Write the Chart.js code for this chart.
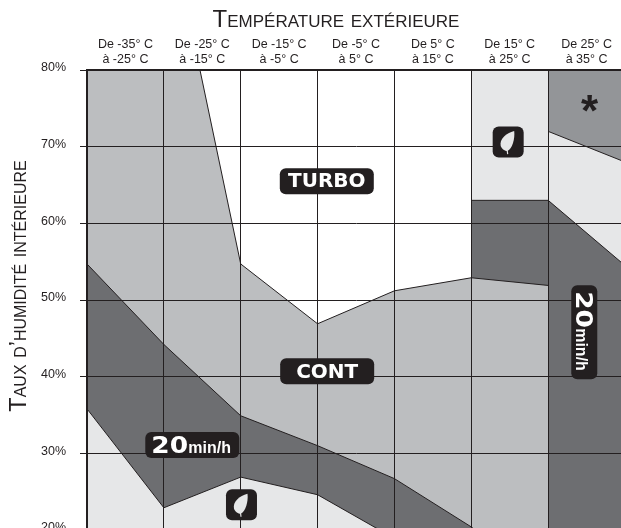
<!DOCTYPE html>
<html lang="fr">
<head>
<meta charset="utf-8">
<title>Température extérieure</title>
<style>
  html, body { margin: 0; background: #fff; overflow: hidden; width: 621px; height: 528px; }
  canvas { position: absolute; left: 0; top: 0; }
</style>
<script src="https://cdn.jsdelivr.net/npm/chart.js@4/dist/chart.umd.min.js"></script>
</head>
<body>
<canvas id="chart" width="625" height="545"></canvas>
<script>
const tempLabels = [
  ["De -35° C", "à -25° C"],
  ["De -25° C", "à -15° C"],
  ["De -15° C", "à -5° C"],
  ["De -5° C", "à 5° C"],
  ["De 5° C", "à 15° C"],
  ["De 15° C", "à 25° C"],
  ["De 25° C", "à 35° C"],
];

// region boundaries: temperature (x) and humidity % (y)
const contTopX = [-35, -20.3, -15, -5, 5, 15, 25];
const contTopY = [80, 80, 54.7, 46.9, 51.2, 52.9, 51.9];
const leftDarkX = [-35, -25, -15, -5, 5, 15, 15.5];
const leftDarkY = [54.7, 44.2, 34.9, 31, 26.7, 20.4, 20];
const leftEcoX = [-35, -25, -15, -5, 5];
const leftEcoY = [35.8, 22.9, 26.9, 24.6, 18.9];
const midEcoX = [15, 25];
const midEcoY = [80, 80];
const midDarkX = [15, 25];
const midDarkY = [63, 63];
const starX = [25, 35];
const starY = [80, 80];
const rightEcoX = [25, 35];
const rightEcoY = [72, 68];
const rightDarkX = [25, 35];
const rightDarkY = [63, 54.5];

const INK = "#231f20";
const CONT = "#bcbec0";
const DARK = "#6d6e71";
const ECO = "#e6e7e8";
const STAR = "#939598";

function area(xs, ys, color) {
  return {
    data: xs.map((x, i) => ({ x: x, y: ys[i] })),
    backgroundColor: color,
    borderColor: INK,
    borderWidth: 1,
    pointRadius: 0,
    tension: 0,
    fill: "start",
  };
}

// painted in this order, so the list gets reversed below
const layers = [
  area(starX, starY, STAR),
  area(rightEcoX, rightEcoY, ECO),
  area(rightDarkX, rightDarkY, DARK),
  area(midEcoX, midEcoY, ECO),
  area(midDarkX, midDarkY, DARK),
  area(contTopX, contTopY, CONT),
  area(leftDarkX, leftDarkY, DARK),
  area(leftEcoX, leftEcoY, ECO),
];

function badge(ctx, x, y, w, h) {
  ctx.fillStyle = INK;
  ctx.beginPath();
  ctx.roundRect(x - w / 2, y - h / 2, w, h, 6);
  ctx.fill();
}

function wordBadge(ctx, text, x, y) {
  badge(ctx, x, y, 94, 26);
  ctx.fillStyle = "#fff";
  ctx.font = "bold 20px 'DejaVu Sans'";
  ctx.textAlign = "center";
  ctx.textBaseline = "middle";
  ctx.fillText(text, x, y + 1);
}

function rateText(ctx) {
  ctx.fillStyle = "#fff";
  ctx.textBaseline = "alphabetic";
  ctx.textAlign = "left";
  ctx.font = "bold 16px 'Liberation Sans'";
  ctx.fillText("min/h", -4, 8);
  // the "20" is wider than any installed font, so stretch it
  ctx.font = "bold 23px 'DejaVu Sans'";
  ctx.scale(1.15, 1);
  ctx.fillText("20", -41 / 1.15, 8);
}

function leafBadge(ctx, x, y) {
  badge(ctx, x, y, 31, 31);
  ctx.save();
  ctx.translate(x, y);
  ctx.fillStyle = "#e6e7e8";
  ctx.beginPath();
  ctx.moveTo(6, -11);
  ctx.bezierCurveTo(-2, -9, -9, -3, -7.5, 4);
  ctx.bezierCurveTo(-6.5, 7, -3, 9, -1, 9);
  ctx.bezierCurveTo(4, 7, 7, -3, 6, -11);
  ctx.fill();
  ctx.strokeStyle = "#e6e7e8";
  ctx.lineWidth = 1.2;
  ctx.beginPath();
  ctx.moveTo(-1, 8);
  ctx.lineTo(-0.5, 12);
  ctx.stroke();
  ctx.restore();
}

const overlay = {
  id: "overlay",
  afterDraw(chart) {
    const ctx = chart.ctx;
    const px = (v) => chart.scales.x.getPixelForValue(v);
    const py = (v) => chart.scales.y.getPixelForValue(v);
    ctx.save();

    // small caps titles, the scale title font option drops the variant
    ctx.fillStyle = INK;
    ctx.font = "small-caps 400 24px 'Liberation Sans'";
    ctx.textAlign = "center";
    ctx.textBaseline = "alphabetic";
    ctx.fillText("Température extérieure", 336, 27);
    ctx.save();
    ctx.translate(26, 286);
    ctx.rotate(-Math.PI / 2);
    ctx.font = "small-caps 400 23.5px 'Liberation Sans'";
    ctx.fillText("Taux d’humidité intérieure", 0, 0);
    ctx.restore();

    wordBadge(ctx, "TURBO", px(-3.8), py(65.5));
    wordBadge(ctx, "CONT", px(-3.75), py(40.7));

    badge(ctx, px(-21.3), py(31.1), 94, 26);
    ctx.save();
    ctx.translate(px(-21.3), py(31.1));
    rateText(ctx);
    ctx.restore();

    badge(ctx, px(29.7), py(45.8), 26, 94);
    ctx.save();
    ctx.translate(px(29.7), py(45.8));
    ctx.rotate(Math.PI / 2);
    rateText(ctx);
    ctx.restore();

    leafBadge(ctx, px(19.8), py(70.6));
    leafBadge(ctx, px(-14.9), py(23.3));

    ctx.fillStyle = INK;
    ctx.font = "bold 44px 'Liberation Sans'";
    ctx.textAlign = "center";
    ctx.textBaseline = "alphabetic";
    ctx.fillText("*", px(30.4), 126);
    ctx.restore();
  },
};

new Chart(document.getElementById("chart"), {
  type: "line",
  data: { datasets: layers.slice().reverse() },
  plugins: [overlay],
  options: {
    responsive: false,
    animation: false,
    events: [],
    layout: { padding: { left: 0, right: 0, top: 0, bottom: 15 } },
    plugins: { legend: { display: false }, tooltip: { enabled: false } },
    scales: {
      x: { type: "linear", min: -35, max: 35, display: false },
      bands: {
        type: "category",
        labels: tempLabels,
        position: "top",
        offset: true,
        afterFit(scale) {
          scale.height = 70;
          scale.paddingLeft = 0;
          scale.paddingRight = 0;
        },
        grid: { offset: true, color: INK, lineWidth: 1, z: 1, drawTicks: false },
        border: { color: INK, width: 2, z: 1 },
        ticks: {
          color: INK,
          font: { family: "'Liberation Sans'", size: 12.5, lineHeight: 1.2 },
          padding: 3,
          maxRotation: 0,
          autoSkip: false,
        },
      },
      y: {
        min: 20,
        max: 80,
        afterFit(scale) {
          scale.width = 87;
          scale.paddingTop = 0;
          scale.paddingBottom = 0;
        },
        grid: { color: INK, lineWidth: 1, z: 1, tickLength: 7 },
        border: { color: INK, width: 2, z: 1 },
        ticks: {
          stepSize: 10,
          color: INK,
          padding: 14,
          labelOffset: -2,
          font: { family: "'Liberation Sans'", size: 12.5 },
          callback: (v) => v + "%",
        },
      },
    },
  },
});
</script>
</body>
</html>
